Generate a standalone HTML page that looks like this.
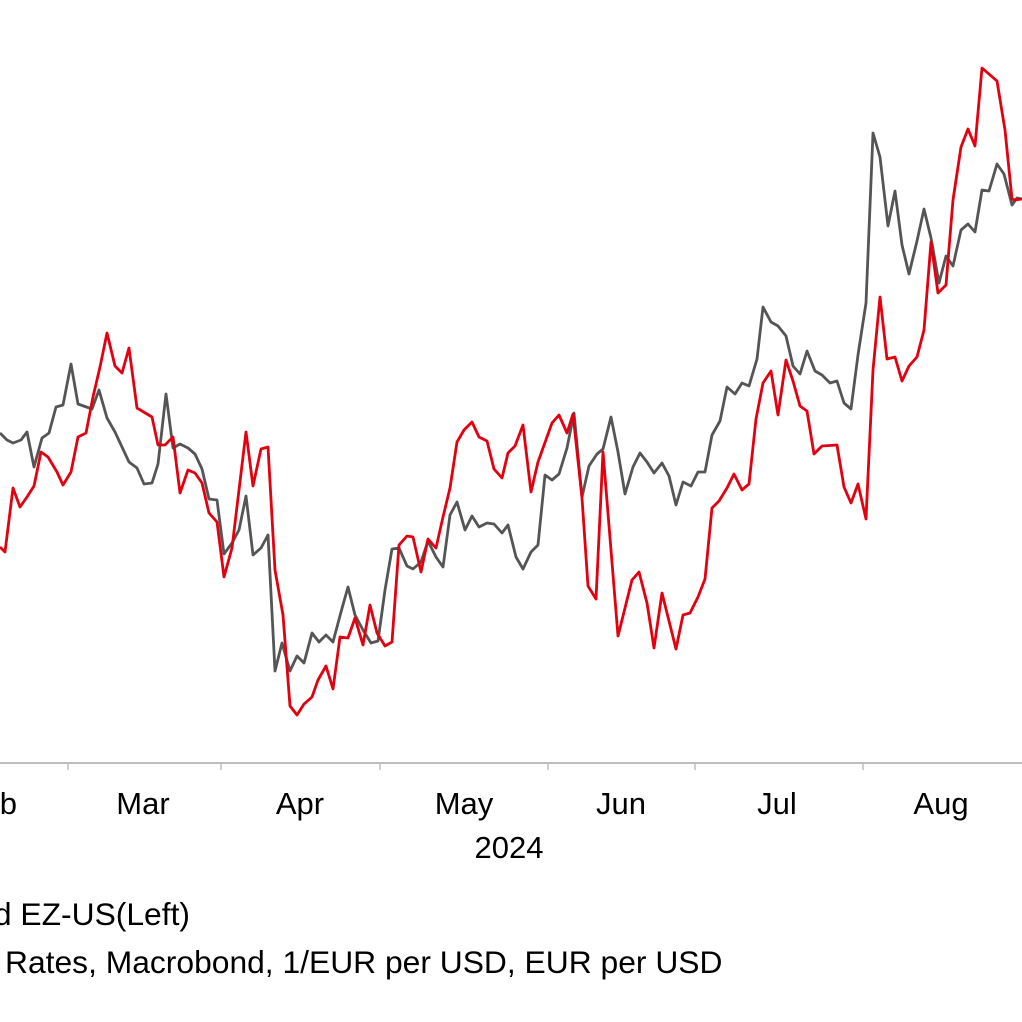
<!DOCTYPE html>
<html><head><meta charset="utf-8"><style>
html,body{margin:0;padding:0;background:#fff;}
svg{display:block;}
text{font-family:"Liberation Sans",Arial,sans-serif;fill:#000;}
</style></head><body>
<svg width="1022" height="1022" viewBox="0 0 1022 1022" xmlns="http://www.w3.org/2000/svg">
<rect width="1022" height="1022" fill="#fff"/>
<line x1="0" y1="763" x2="1022" y2="763" stroke="#bdbdbd" stroke-width="2"/>
<g stroke="#bdbdbd" stroke-width="1.5">
<line x1="68" y1="763" x2="68" y2="770"/><line x1="221" y1="763" x2="221" y2="770"/><line x1="380" y1="763" x2="380" y2="770"/><line x1="548" y1="763" x2="548" y2="770"/><line x1="695" y1="763" x2="695" y2="770"/><line x1="863" y1="763" x2="863" y2="770"/>
</g>
<g font-size="31" text-anchor="middle">
<text x="17" y="814" text-anchor="end">Feb</text>
<text x="143" y="814">Mar</text>
<text x="300" y="814">Apr</text>
<text x="464" y="814">May</text>
<text x="621" y="814">Jun</text>
<text x="777" y="814">Jul</text>
<text x="941" y="814">Aug</text>
<text x="509" y="858">2024</text>
</g>
<text x="190" y="925" font-size="31.8" text-anchor="end">nd EZ-US(Left)</text>
<text x="5" y="973" font-size="31.8">Rates, Macrobond, 1/EUR per USD, EUR per USD</text>
<polyline fill="none" stroke="#555" stroke-width="2.8" stroke-linejoin="round" points="0,433 7,440 13,443 21,440 27,432 34,467 42,438 49,433 56,407 63,405 71,364 78,404 92,409 99,390 107,418 115,432 122,447 129,462 137,468 144,484 152,483 158,464 166,394 173,448 180,444 188,448 195,454 202,469 209,499 217,500 224,554 232,543 239,530 246,496 253,555 261,548 268,535 275,671 282,643 290,671 297,656 304,663 312,633 319,642 326,635 333,642 341,612 348,587 355,615 363,630 371,643 378,641 385,590 392,549 399,548 407,566 413,569 421,562 428,541 436,557 443,567 450,515 457,502 465,530 472,516 479,527 487,523 494,524 502,533 508,525 516,557 523,569 531,552 538,545 545,475 552,480 559,474 567,448 574,413 582,497 589,466 597,454 603,449 611,417 618,452 625,494 633,467 640,453 647,462 654,473 662,463 669,476 676,505 683,482 691,486 698,472 705,472 712,435 720,421 727,387 735,394 742,383 749,386 757,359 763,307 771,322 778,326 786,336 793,366 800,374 807,351 815,371 822,375 830,383 837,381 844,403 851,409 858,355 866,303 873,133 880,157 888,226 895,191 902,245 909,274 917,241 924,209 931,238 939,283 946,256 953,266 961,230 968,224 975,232 982,190 989,191 997,164 1004,174 1012,205 1017,198 1022,199"/>
<polyline fill="none" stroke="#e3000f" stroke-width="2.8" stroke-linejoin="round" points="0,547 5,552 13,488 20,507 27,497 34,486 41,452 48,457 57,472 63,485 71,472 78,437 86,433 93,397 100,367 107,333 115,366 122,373 129,348 137,408 152,417 158,445 165,445 173,437 180,493 188,470 195,473 202,483 209,513 217,522 224,577 232,548 246,432 253,486 261,449 268,447 275,570 283,615 290,706 297,715 304,704 312,697 318,680 326,666 333,689 340,637 348,638 355,618 363,645 370,605 377,633 385,646 392,642 399,545 407,536 413,537 421,572 428,539 436,548 443,517 450,488 457,442 464,430 472,422 479,437 487,441 494,469 502,478 508,453 515,446 523,425 531,492 538,462 552,423 559,415 567,433 573,414 582,498 588,586 596,599 603,452 618,636 632,580 639,572 647,603 654,648 662,593 676,649 683,615 690,613 698,597 705,579 712,508 719,501 727,488 734,474 742,490 749,484 756,419 763,383 771,371 778,415 786,360 793,381 800,406 807,411 814,454 822,446 837,445 844,487 851,503 858,484 866,519 873,370 880,297 887,359 895,357 902,381 909,366 917,357 924,330 931,242 938,293 946,285 953,200 961,147 968,129 975,146 982,68 997,81 1005,130 1012,199 1015,200 1022,199"/>
</svg>
</body></html>
